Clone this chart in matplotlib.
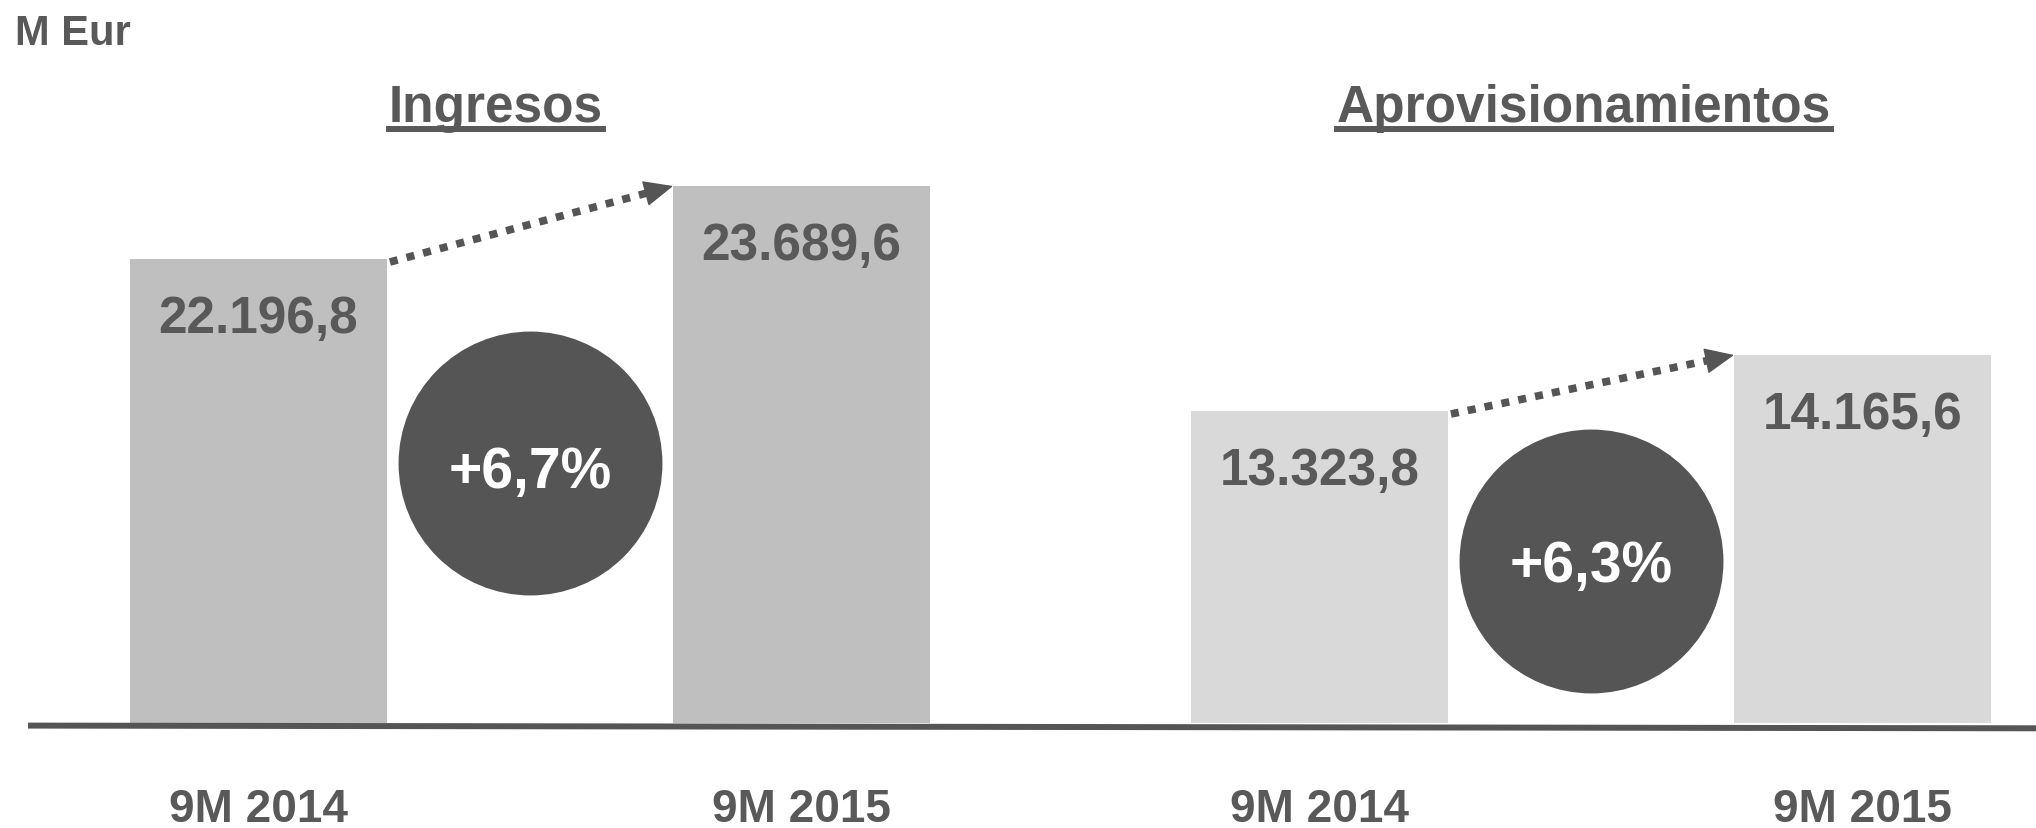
import numpy as np
import matplotlib.pyplot as plt
from matplotlib.lines import Line2D
from matplotlib import transforms

plt.rcParams['font.family'] = ['Liberation Sans', 'DejaVu Sans']

# datos (M Eur)
panels = ["Ingresos", "Aprovisionamientos"]
periods = ["9M 2014", "9M 2015"]
ingresos = [22196.8, 23689.6]
aprovisionamientos = [13323.8, 14165.6]

TXT = "#595959"
DARK = "#555555"
bar_colors = ["#BFBFBF", "#D9D9D9"]

W, H = 2036, 829
fig = plt.figure(figsize=(W / 100, H / 100), dpi=100)


def fmt_es(v):
    return f"{v:,.1f}".replace(",", "X").replace(".", ",").replace("X", ".")


def dotted_arrow(ax, p0, p1):
    # linea de puntos + cabeza solida, calculada en pixeles
    a = ax.transData.transform(p0) + np.array([3, -3])
    b = ax.transData.transform(p1)
    u = (b - a) / np.hypot(*(b - a))
    base = b - u * 26
    inv = ax.transData.inverted()
    a_d, base_d = inv.transform(a), inv.transform(base + u * 4)
    ax.plot([a_d[0], base_d[0]], [a_d[1], base_d[1]], color=DARK, lw=5.5,
            ls=(0, (1.05, 1.2)), dash_capstyle='butt', clip_on=False)
    ax.annotate("", xy=p1, xytext=inv.transform(base),
                arrowprops=dict(arrowstyle="-|>,head_length=0.95,head_width=0.42",
                                color=DARK, lw=1, shrinkA=0, shrinkB=0,
                                mutation_scale=20),
                annotation_clip=False)


# cada panel tiene su propia escala (como en el original)
bottom, height = (H - 724) / H, 624 / H
unit = 543  # px por unidad en x
bw = 0.473
cfg = [
    # izquierda px, xlim, ylim, y del circulo (fraccion de ejes), ajuste texto
    (14.15, (-0.45, 1.5), (12708, 25469), 0.4173, -24),
    (1075.15, (-0.45, 1.3), (8634, 18014), 0.2596, -20),
]
series = [ingresos, aprovisionamientos]

for k, (left, xl, yl, cy, dy) in enumerate(cfg):
    vals = series[k]
    ax = fig.add_axes([left / W, bottom, (xl[1] - xl[0]) * unit / W, height])
    ax.set_xlim(*xl)
    ax.set_ylim(*yl)
    ax.patch.set_visible(False)
    for s in ax.spines.values():
        s.set_visible(False)
    ax.set_yticks([])
    ax.set_xticks([0, 1], periods)
    ax.tick_params(axis='x', length=0, pad=46, labelsize=33, labelcolor=TXT)
    for lbl in ax.get_xticklabels():
        lbl.set_fontweight('bold')

    x = np.arange(len(vals))
    ax.bar(x, np.array(vals) - yl[0], bottom=yl[0], width=bw, color=bar_colors[k])
    for i, v in enumerate(vals):
        ax.annotate(fmt_es(v), xy=(i, v), xytext=(0, -73), textcoords='offset pixels',
                    ha='center', va='baseline', fontsize=37, fontweight='bold', color=TXT)

    dotted_arrow(ax, (bw / 2, vals[0]), (1 - bw / 2, vals[1]))

    pct = (vals[1] / vals[0] - 1) * 100
    tr = transforms.blended_transform_factory(ax.transData, ax.transAxes)
    ax.scatter([0.5], [cy], s=36100, color=DARK, linewidths=0, transform=tr,
               clip_on=False, zorder=3)
    ax.annotate(f"+{pct:.1f}%".replace(".", ","), xy=(0.5, cy), xycoords=tr,
                xytext=(0, dy), textcoords='offset pixels', ha='center', va='baseline',
                fontsize=41, fontweight='bold', color='white', zorder=4)

# linea base
fig.add_artist(Line2D([31 / W, 1.0], [1 - 726.6 / H, 1 - 729.3 / H], lw=4.3, color=DARK))

fig.text(15 / W, 1 - 45 / H, "M Eur", fontsize=30, fontweight='bold', color=TXT, va='baseline')

titles = []
for name, cx in zip(panels, [496, 1584]):
    titles.append(fig.text(cx / W, 1 - 122 / H, name, fontsize=37, fontweight='bold',
                           color=TXT, ha='center', va='baseline'))

# subrayado de los titulos
fig.canvas.draw()
r = fig.canvas.get_renderer()
for t in titles:
    bb = t.get_window_extent(r)
    fig.add_artist(Line2D([bb.x0 / W, bb.x1 / W], [1 - 130 / H] * 2, lw=4.3, color=TXT))

fig.savefig("out.png", dpi=100)
